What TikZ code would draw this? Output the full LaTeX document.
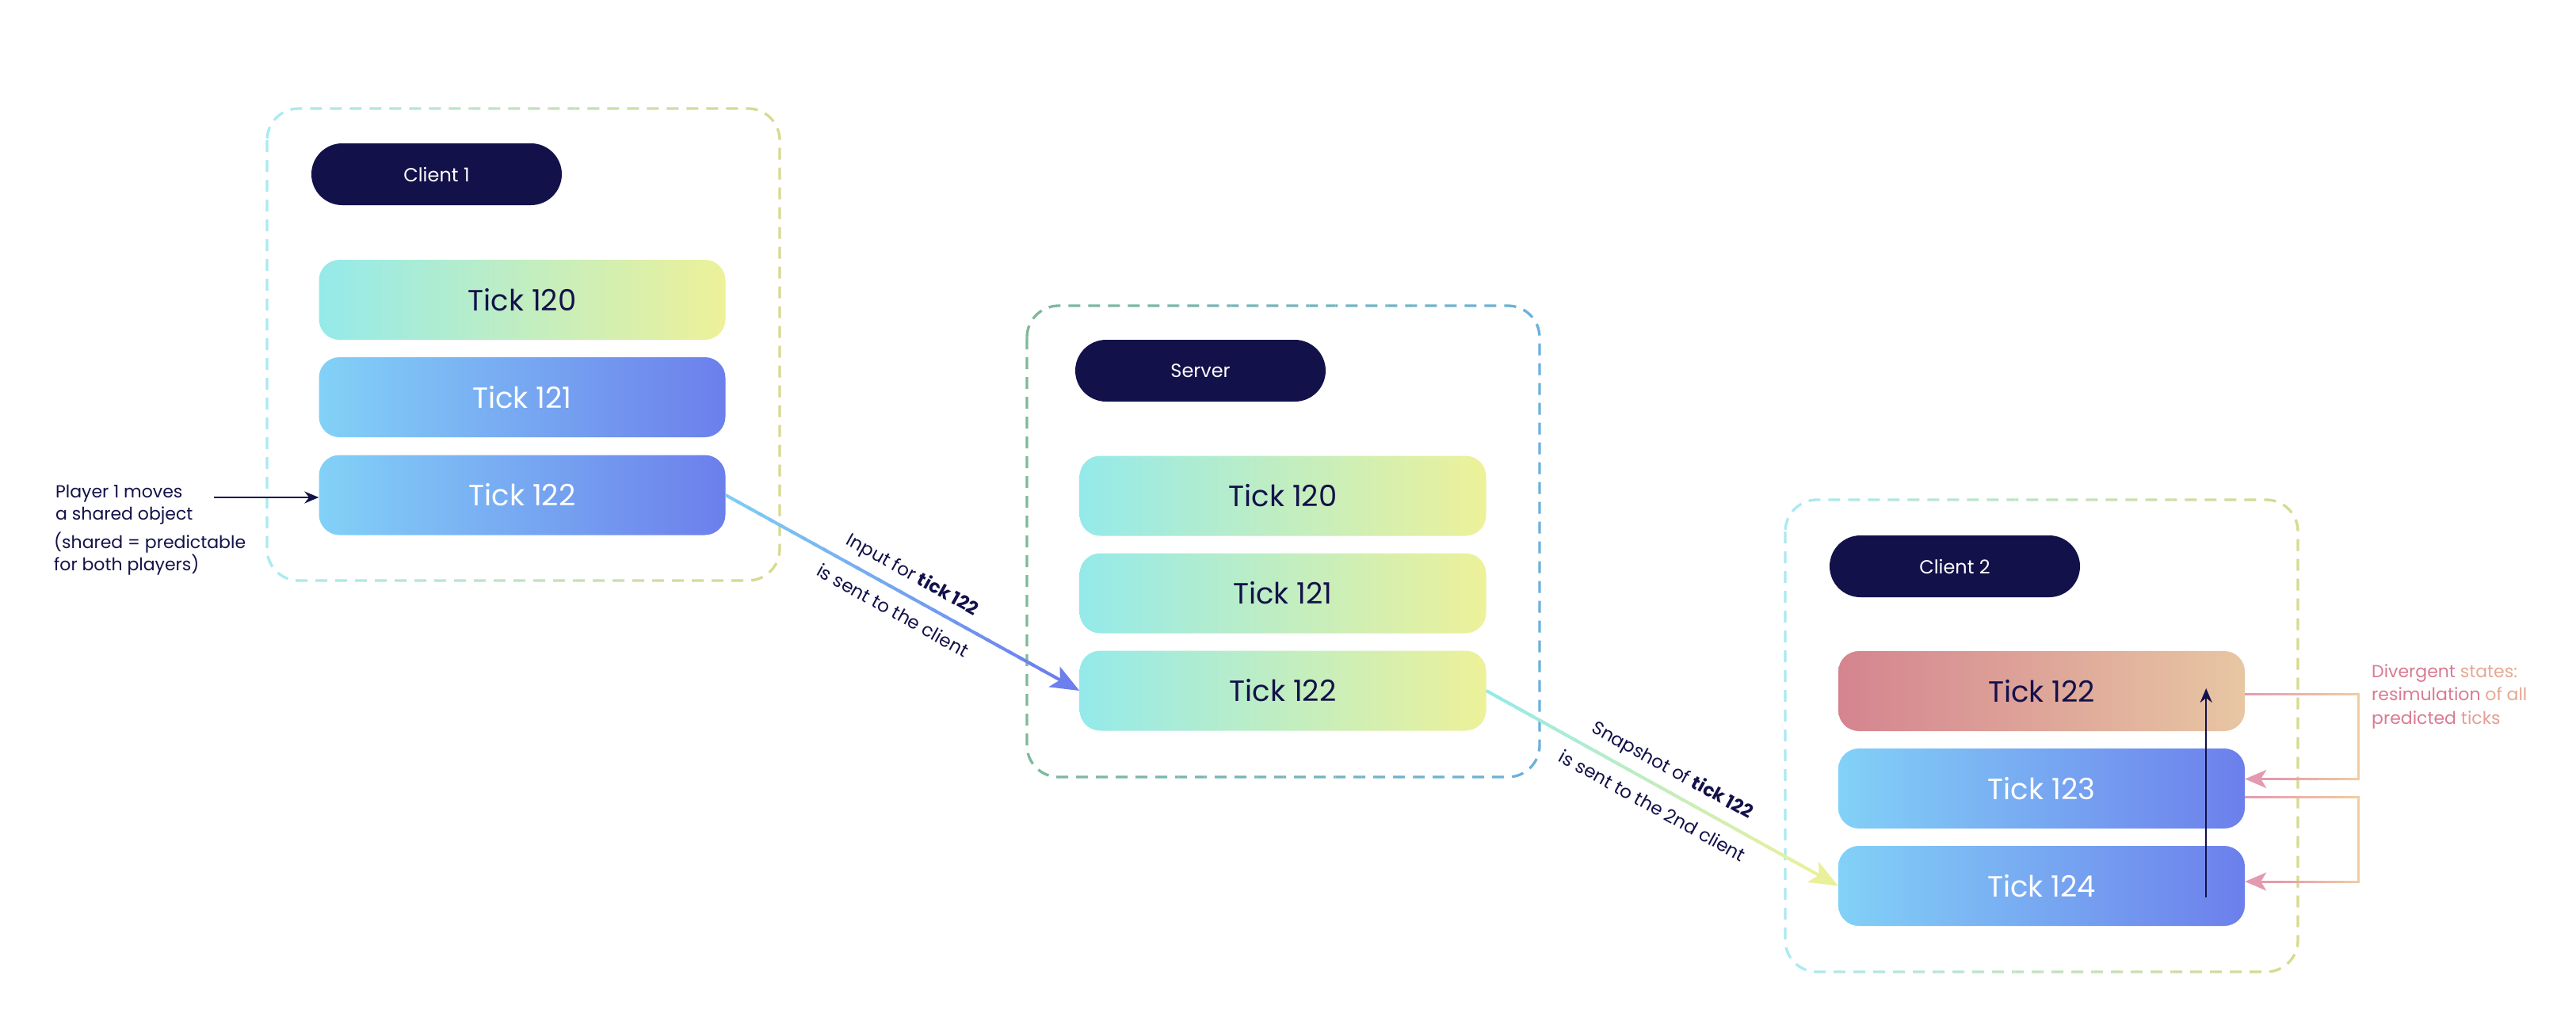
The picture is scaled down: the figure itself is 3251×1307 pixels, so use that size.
\documentclass[tikz,border=0pt]{standalone}
\usepackage{fontspec}
\setmainfont{Poppins}
\usetikzlibrary{arrows.meta,calc}
\definecolor{navy}{HTML}{13114A}
\definecolor{tA1}{HTML}{94EAEA}
\definecolor{tA2}{HTML}{EDF199}
\definecolor{tB1}{HTML}{82D1F7}
\definecolor{tB2}{HTML}{6C7FEC}
\definecolor{tC1}{HTML}{D4848F}
\definecolor{tC2}{HTML}{E8C6A3}
\definecolor{cbL}{HTML}{A9EAF3}
\definecolor{cbR}{HTML}{D9D98B}
\definecolor{sbL}{HTML}{7FB99A}
\definecolor{sbR}{HTML}{6AB1DD}
\definecolor{lnA}{HTML}{7ECFF5}
\definecolor{lnB}{HTML}{6C7FEC}
\definecolor{lnC}{HTML}{95EAE8}
\definecolor{lnD}{HTML}{EAF09A}
\definecolor{pk}{HTML}{E39AAF}
\definecolor{pe}{HTML}{F2CD9F}
\definecolor{dvA}{HTML}{D97A92}
\definecolor{dvB}{HTML}{E5A892}
\newcommand{\gradseg}[6]{%
  \foreach \k in {1,...,#6}{%
    \pgfmathsetmacro{\ta}{(\k-1)/#6}%
    \pgfmathsetmacro{\tb}{min((\k+0.4)/#6,1)}%
    \pgfmathtruncatemacro{\pc}{round(100-(\k-0.5)*100/#6)}%
    \draw[line width=#5, draw={#3!\pc!#4}] ($(#1)!\ta!(#2)$) -- ($(#1)!\tb!(#2)$);%
  }}
\newcommand{\gradbox}[6]{%
  \foreach \k in {1,...,20}{%
    \pgfmathsetmacro{\xa}{#1-6+(\k-1)*(#3-#1+12)/20}%
    \pgfmathsetmacro{\xb}{#1-6+\k*(#3-#1+12)/20}%
    \pgfmathtruncatemacro{\pc}{round(100-(\k-0.5)*100/20)}%
    \begin{scope}
      \clip (\xa,#2-8) rectangle (\xb,#4+8);
      \draw[dbox, draw={#5!\pc!#6}] (#1,#2) rectangle (#3,#4);
    \end{scope}
  }}
\begin{document}
\begin{tikzpicture}[x=1pt,y=-1pt,
  tick/.style={rounded corners=26pt, minimum width=513pt, minimum height=101pt, inner sep=0pt, font=\fontsize{37}{44}\selectfont},
  tickA/.style={tick, left color=tA1, right color=tA2, text=navy},
  tickB/.style={tick, left color=tB1, right color=tB2, text=white},
  tickC/.style={tick, left color=tC1, right color=tC2, text=navy},
  pill/.style={fill=navy, rounded corners=39pt, minimum width=316pt, minimum height=78pt, inner sep=0pt, text=white, font=\fontsize{24}{28}\selectfont},
  dbox/.style={line width=3.3pt, dash pattern=on 15pt off 10pt, rounded corners=40pt},
  lbl/.style={text=navy, font=\fontsize{23}{28}\selectfont, inner sep=0pt},
  note/.style={text=navy, font=\fontsize{22}{28}\selectfont, inner sep=0pt, align=left, anchor=west},
  navyarrow/.style={navy, line width=2.5pt, -{Stealth[length=18pt,width=15pt]}},
]
\fill[white] (0,0) rectangle (3251,1307);
\useasboundingbox (0,0) rectangle (3251,1307);

% containers
\gradbox{337}{137}{984}{733}{cbL}{cbR}
\gradbox{1296}{386}{1943}{981}{sbL}{sbR}
\gradbox{2253}{631}{2900}{1227}{cbL}{cbR}

% client 1
\node[pill] (c1) at (551,220) {Client 1};
\node[tickA] (c1t120) at (659,378.5) {Tick 120};
\node[tickB] (c1t121) at (659,501.5) {Tick 121};
\node[tickB] (c1t122) at (659,625) {Tick 122};

% server
\node[pill] (srv) at (1515,468) {Server};
\node[tickA] (s120) at (1619,626) {Tick 120};
\node[tickA] (s121) at (1619,749) {Tick 121};
\node[tickA] (s122) at (1619,872) {Tick 122};

% client 2
\node[pill] (c2) at (2467,715) {Client 2};
\node[tickC] (c2t122) at (2576.5,872.5) {Tick 122};
\node[tickB] (c2t123) at (2576.5,995.5) {Tick 123};
\node[tickB] (c2t124) at (2576.5,1118.5) {Tick 124};

% player note
\node[note] (pn1) at (70,637) {Player 1 moves\\a shared object};
\node[note] (pn2) at (68,699.5) {(shared = predictable\\for both players)};
\coordinate (pa) at ($(c1t122.west)+(-132,3)$);
\draw[navyarrow] (pa) -- (pa -| c1t122.west);

% input arrow
\coordinate (a1) at (c1t122.east);
\coordinate (b1) at (s122.west);
\coordinate (a1e) at ($(a1)!0.92!(b1)$);
\gradseg{a1}{a1e}{lnA}{lnB}{4pt}{30}
\draw[lnB, line width=4pt, -{Stealth[length=36pt,width=29pt,inset=8pt]}] (a1e) -- (b1);
\coordinate (m1) at ($(a1)!0.5!(b1)$);
\node[lbl, rotate=-29.2] (l1a) at ($(m1)!25pt!90:(b1)$) {Input for \textbf{tick 122}};
\node[lbl, rotate=-29.2] (l1b) at ($(m1)!25pt!-90:(b1)$) {is sent to the client};

% snapshot arrow
\coordinate (a2) at (s122.east);
\coordinate (b2) at (c2t124.west);
\coordinate (a2e) at ($(a2)!0.92!(b2)$);
\gradseg{a2}{a2e}{lnC}{lnD}{4pt}{30}
\draw[lnD, line width=4pt, -{Stealth[length=36pt,width=29pt,inset=8pt]}] (a2e) -- (b2);
\coordinate (m2) at ($(a2)!0.5!(b2)$);
\node[lbl, rotate=-29.0] (l2a) at ($(m2)!25pt!90:(b2)$) {Snapshot of \textbf{tick 122}};
\node[lbl, rotate=-29.0] (l2b) at ($(m2)!25pt!-90:(b2)$) {is sent to the 2nd client};

% resimulation connectors
\coordinate (q1) at ($(c2t122.east)+(0,3.5)$);
\coordinate (q2) at ($(q1)+(143.5,0)$);
\coordinate (q4) at ($(c2t123.east)+(0,-12)$);
\coordinate (q3) at ($(q4)+(143.5,0)$);
\coordinate (q35) at ($(q3)!0.72!(q4)$);
\gradseg{q1}{q2}{pk}{pe}{3pt}{16}
\draw[pe, line width=3pt, line cap=rect] (q2) -- (q3);
\gradseg{q3}{q35}{pe}{pk}{3pt}{12}
\draw[pk, line width=3pt, -{Stealth[length=27pt,width=23pt,inset=7pt]}] (q35) -- (q4);

\coordinate (r1) at ($(c2t123.east)+(0,11)$);
\coordinate (r2) at ($(r1)+(143.5,0)$);
\coordinate (r4) at ($(c2t124.east)+(0,-5.5)$);
\coordinate (r3) at ($(r4)+(143.5,0)$);
\coordinate (r35) at ($(r3)!0.72!(r4)$);
\gradseg{r1}{r2}{pk}{pe}{3pt}{16}
\draw[pe, line width=3pt, line cap=rect] (r2) -- (r3);
\gradseg{r3}{r35}{pe}{pk}{3pt}{12}
\draw[pk, line width=3pt, -{Stealth[length=27pt,width=23pt,inset=7pt]}] (r35) -- (r4);

% vertical navy arrow
\coordinate (va) at ($(c2t124.east)+(-49,14)$);
\coordinate (vb) at ($(c2t122.east)+(-49,-3.5)$);
\draw[navyarrow] (va) -- (vb);

% divergent note
\node[note, font=\fontsize{22}{29.5}\selectfont] (dv) at (2993,879)
  {\textcolor{dvA}{Divergent} \textcolor{dvB}{states:}\\
   \textcolor{dvA}{resimulation} \textcolor{dvB}{of all}\\
   \textcolor{dvA}{predicted} \textcolor{dvB!80!dvA}{ticks}};
\end{tikzpicture}
\end{document}
